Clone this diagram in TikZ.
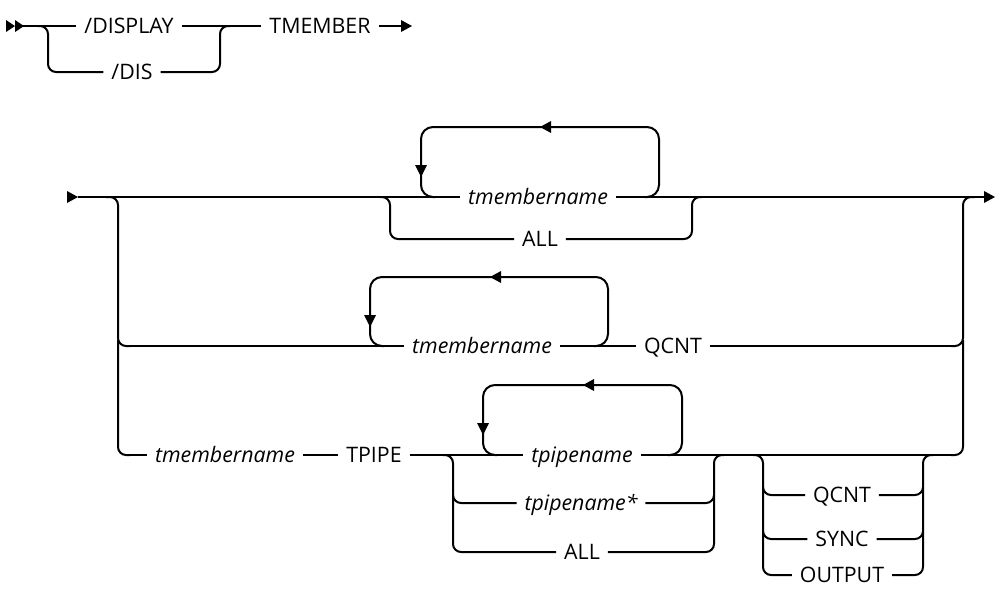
\documentclass[tikz,border=0pt]{standalone}
\usepackage{fontspec}
\setmainfont{Open Sans}
\begin{document}
\begin{tikzpicture}[x=0.75pt,y=-0.75pt,line width=1.5pt,
  lbl/.style={inner xsep=6pt,inner ysep=0pt,outer sep=0pt,font=\fontsize{16pt}{18pt}\selectfont,text height=11.4pt,text depth=0pt,anchor=center},
  var/.style={lbl,font=\fontsize{16pt}{18pt}\selectfont\itshape},
  br/.style={rounded corners=6pt},
  lp/.style={rounded corners=9pt},
  rarrow/.pic={\fill (-11,-6)--(0,0)--(-11,6)--cycle;},
  larrow/.pic={\fill (11,-6)--(0,0)--(11,6)--cycle;},
  darrow/.pic={\fill (-6,-12)--(0,0)--(6,-12)--cycle;}]
\useasboundingbox (0,0) rectangle (995,589);
\clip (0,0) rectangle (995,589);

% ---------- top line ----------
\coordinate (s0) at (23,26);
\fill (6,20)--(15,26)--(6,32)--cycle;
\fill (15,20)--(24,26)--(15,32)--cycle;
\node[lbl] (disp) at (129,26) {/DISPLAY};
\node[lbl] (dis) at (132,72) {/DIS};
\node[lbl] (tmem) at (320,26) {TMEMBER};
\coordinate (e0) at (401,26);
\draw (s0) -- (disp.west);
\draw (disp.east) -- (tmem.west);
\draw (tmem.east) -- (e0);
\pic at (412,26) {rarrow};
\draw[br] (38,26) -- (48,26) -- (48,72) -- (dis.west);
\draw[br] (dis.east) -- (220,72) -- (220,26) -- (230,26);

% ---------- row 1 ----------
\pic at (78,197) {rarrow};
\coordinate (s1) at (78,197);
\coordinate (e1) at (984,197);
\node[var] (tm1) at (538,197) {tmembername};
\node[lbl] (all1) at (540,239) {ALL};
\draw (s1) -- (tm1.west);
\draw (tm1.east) -- (e1);
\pic at (995,197) {rarrow};
\draw[br] (380,197) -- (390,197) -- (390,239) -- (all1.west);
\draw[br] (all1.east) -- (692,239) -- (692,197) -- (702,197);
\draw[lp] (645,197) -- (659,197) -- (659,127) -- (421,127) -- (421,197) -- (435,197);
\pic at (540,127) {larrow};
\pic at (421,177) {darrow};

% ---------- left / right rails ----------
\draw[br] (106,197) -- (118,197) -- (118,346) -- (130,346);
\draw[br] (118,340) -- (118,455) -- (130,455);
\draw[br] (951,455) -- (963,455) -- (963,340);
\draw[br] (951,346) -- (963,346) -- (963,197) -- (975,197);

% ---------- row 2 ----------
\node[var] (tm2) at (482,346) {tmembername};
\node[lbl] (q2) at (673,346) {QCNT};
\draw (125,346) -- (tm2.west);
\draw (tm2.east) -- (q2.west);
\draw (q2.east) -- (955,346);
\draw[lp] (594,346) -- (608,346) -- (608,277) -- (370,277) -- (370,346) -- (384,346);
\pic at (490,277) {larrow};
\pic at (370,327) {darrow};

% ---------- row 3 ----------
\node[var] (tm3) at (225,455) {tmembername};
\node[lbl] (tpipe) at (374,455) {TPIPE};
\node[var] (tp1) at (582,455) {tpipename};
\node[var] (tp2) at (581,503) {tpipename*};
\node[lbl] (all2) at (582,552) {ALL};
\draw (125,455) -- (tm3.west);
\draw (tm3.east) -- (tpipe.west);
\draw (tpipe.east) -- (tp1.west);
\draw (tp1.east) -- (955,455);
\draw[br] (443,455) -- (453,455) -- (453,552) -- (all2.west);
\draw[br] (453,495) -- (453,503) -- (tp2.west);
\draw[br] (all2.east) -- (714,552) -- (714,455) -- (724,455);
\draw[br] (tp2.east) -- (714,503) -- (714,495);
\draw[lp] (668,455) -- (682,455) -- (682,385) -- (483,385) -- (483,455) -- (497,455);
\pic at (583,385) {larrow};
\pic at (483,435) {darrow};

% ---------- optional group ----------
\node[lbl] (q3) at (842,495) {QCNT};
\node[lbl] (sync) at (842,539) {SYNC};
\node[lbl] (out) at (842,575) {OUTPUT};
\draw[br] (753,455) -- (763,455) -- (763,575) -- (out.west);
\draw[br] (763,487) -- (763,495) -- (q3.west);
\draw[br] (763,531) -- (763,539) -- (sync.west);
\draw[br] (out.east) -- (923,575) -- (923,455) -- (933,455);
\draw[br] (q3.east) -- (923,495) -- (923,487);
\draw[br] (sync.east) -- (923,539) -- (923,531);
\end{tikzpicture}
\end{document}
